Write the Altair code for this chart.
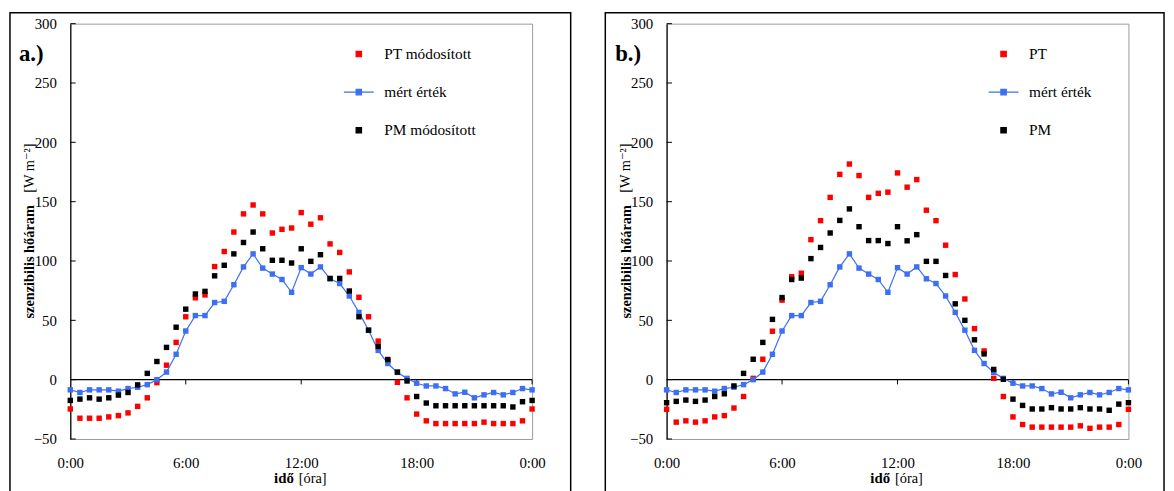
import altair as alt
import pandas as pd

# time of day in hours (half-hourly, 0:00 .. 24:00)
TIME_H = [0.0, 0.5, 1.0, 1.5, 2.0, 2.5, 3.0, 3.5, 4.0, 4.5, 5.0, 5.5, 6.0, 6.5, 7.0, 7.5,
          8.0, 8.5, 9.0, 9.5, 10.0, 10.5, 11.0, 11.5, 12.0, 12.5, 13.0, 13.5, 14.0, 14.5,
          15.0, 15.5, 16.0, 16.5, 17.0, 17.5, 18.0, 18.5, 19.0, 19.5, 20.0, 20.5, 21.0,
          21.5, 22.0, 22.5, 23.0, 23.5, 24.0]

MERT = [-8.6, -10.8, -8.6, -8.6, -8.6, -9.7, -7.5, -6.4, -4.2, 0, 6.4, 21.4, 41, 54, 54, 65,
        66, 80, 95, 106, 94, 89, 84.4, 73.6, 94.4, 89, 95, 85, 81, 70.5, 56.7, 41.7, 24.7,
        13.6, 6.1, 1.1, -3, -5.3, -5.3, -7.5, -12, -10.6, -15.3, -12.8, -10.8, -12.8, -10.8,
        -7.5, -8.6]

PT_MOD = [-24.7, -32.5, -32.5, -32.5, -31.4, -30.3, -28, -22.5, -15.3, -2.5, 12.2, 31.4, 53,
          69, 71.4, 95.3, 108, 124.4, 139.7, 147.2, 139.7, 123.6, 126.7, 127.8, 140.8, 131,
          136.4, 114.4, 107.2, 90.8, 69.4, 53, 32.5, 16, -2.2, -15.3, -29, -34.7, -37, -37,
          -37, -37, -37, -35.8, -37, -37, -37, -34.7, -24.7]

PM_MOD = [-17.5, -16.4, -15.3, -16.4, -15.3, -13, -10.8, -4.4, 5.3, 15.3, 27.2, 44.2, 59.4,
          72.2, 74.4, 87.5, 96.4, 106, 115.6, 124.4, 110.3, 100.6, 100.6, 98.3, 110.3, 99.7,
          105.3, 85.3, 85.3, 74.7, 53, 41.7, 28, 17, 6.4, -1.1, -14.2, -19.7, -22, -22, -22,
          -22, -22, -22, -22, -22, -23, -18.6, -17.5]

PT = [-25, -35.8, -34.7, -35.8, -34.7, -31.4, -30.3, -23.9, -14.2, 1.1, 17.2, 40.8, 67, 86.7,
      89.7, 118, 134, 153.6, 173, 181.7, 172, 153.6, 157, 158, 174.2, 162.2, 168.6, 142.8,
      134, 113.3, 88.6, 68, 43, 24.2, 1.1, -14.2, -31.4, -37.8, -40, -40, -40, -40, -40,
      -38.9, -41, -40, -40, -37.8, -25]

PM = [-19.4, -18.3, -17.2, -18.3, -17.2, -14.2, -11.9, -5.3, 5.3, 17.2, 31.4, 50.8, 69.2,
      84.4, 85.6, 102, 111.4, 123.6, 134.2, 143.9, 128.9, 117.2, 117.2, 114.7, 128.9, 117,
      122.2, 99.7, 99.7, 87.8, 63.9, 50, 33.6, 21.7, 8.6, 0.3, -16.4, -21.7, -24.7, -24.7,
      -23.6, -24.7, -24.7, -23.6, -24.7, -24.7, -25.8, -20.6, -19.4]

Y_TICKS = [-50, 0, 50, 100, 150, 200, 250, 300]
X_TICKS = [0, 6, 12, 18, 24]
X_MINOR = [6, 12, 18, 24]

MERT_LABEL = "mért érték"
Y_TITLE = "szenzibilis hőáram"
Y_UNIT = "[W m⁻²]"
X_TITLE = "idő"
X_UNIT = "[óra]"

FONT = "Times New Roman, Liberation Serif, DejaVu Serif, serif"
RED = "#ff0000"
BLUE = "#3d6ff2"
BLACK = "#000000"
W, H = 467, 420
LINE_SYMBOL = "M-5.5,0H5.5M-1,-1H1V1H-1Z"


def panel(tag, pt_label, pm_label, pt_vals, pm_vals, legend_x, frame_x, frame_x2):
    names = [pt_label, MERT_LABEL, pm_label]
    rows = []
    for t, a, b, c in zip(TIME_H, pt_vals, MERT, pm_vals):
        rows.append({"t": t, "v": a, "s": pt_label})
        rows.append({"t": t, "v": b, "s": MERT_LABEL})
        rows.append({"t": t, "v": c, "s": pm_label})
    df = pd.DataFrame(rows)

    xs = alt.Scale(domain=[0, 24], nice=False, zero=False)
    ys = alt.Scale(domain=[-50, 300], nice=False, zero=False)
    x_axis = alt.Axis(values=X_TICKS, labelExpr="(datum.value % 24) + ':00'", ticks=False,
                      tickSize=0, domain=False, grid=False, labelPadding=17, labelFont=FONT,
                      labelFontSize=15, labelColor=BLACK, labelFlush=False, title=None)
    y_axis = alt.Axis(values=Y_TICKS, ticks=False, tickSize=0, domainColor=BLACK,
                      domainWidth=1.2, grid=False, labelPadding=14, labelFont=FONT,
                      labelFontSize=15, labelColor=BLACK, labelFlush=False,
                      title=Y_TITLE, titleFont=FONT,
                      titleFontSize=14.5, titleFontWeight="bold", titleColor=BLACK,
                      titleAngle=270, titleX=-41, titleY=183, titleAlign="right",
                      titleBaseline="middle")
    X = alt.X("t:Q", scale=xs, axis=x_axis)
    Y = alt.Y("v:Q", scale=ys, axis=y_axis)

    stroke_expr = ("datum.value === '" + MERT_LABEL + "' ? '" + BLUE + "' : 'transparent'")
    color = alt.Color("s:N", scale=alt.Scale(domain=names, range=[RED, BLUE, BLACK]),
                      legend=alt.Legend(
                          orient="none", legendX=legend_x, legendY=23, title=None,
                          symbolSize=30, labelFont=FONT, labelFontSize=15.5,
                          labelColor=BLACK, labelOffset=18, rowPadding=21.5, padding=0,
                          symbolStrokeColor=alt.ExprRef(stroke_expr),
                          symbolStrokeWidth=1.2))
    shape = alt.Shape("s:N", scale=alt.Scale(domain=names,
                                             range=["square", LINE_SYMBOL, "square"]))

    base = alt.Chart(df)
    one = alt.Chart(pd.DataFrame({"tag": [tag], "yu": [Y_UNIT], "xt": [X_TITLE],
                                  "xu": [X_UNIT]}))

    frame = one.mark_rect(fillOpacity=0, stroke=BLACK, strokeWidth=1.5).encode(
        x=alt.value(frame_x), x2=alt.value(frame_x2), y=alt.value(-11), y2=alt.value(490))
    zero = alt.Chart(pd.DataFrame({"z": [0]})).mark_rule(color=BLACK, strokeWidth=1.3).encode(
        y=alt.Y("z:Q", scale=ys, axis=y_axis))
    xt = alt.Chart(pd.DataFrame({"t": X_MINOR})).mark_rule(color=BLACK, strokeWidth=1).encode(
        x=X, y=alt.datum(0), y2=alt.datum(-4))
    yt = alt.Chart(pd.DataFrame({"v": Y_TICKS})).mark_rule(color=BLACK, strokeWidth=1).encode(
        y=Y, x=alt.datum(0), x2=alt.datum(0.28))

    line = base.transform_filter(alt.datum.s == MERT_LABEL).mark_line(
        strokeWidth=1.2).encode(x=X, y=Y, color=color)
    pt_pts = base.transform_filter(alt.datum.s == pt_label).mark_point(
        filled=True, size=30, opacity=1).encode(x=X, y=Y, color=color, shape=shape)
    m_pts = base.transform_filter(alt.datum.s == MERT_LABEL).mark_point(
        filled=True, size=30, opacity=1, shape="square").encode(x=X, y=Y, color=color)
    pm_pts = base.transform_filter(alt.datum.s == pm_label).mark_point(
        filled=True, size=30, opacity=1).encode(x=X, y=Y, color=color, shape=shape)

    tag_txt = one.mark_text(font=FONT, fontSize=23, fontWeight="bold", align="left",
                            baseline="alphabetic", color=BLACK).encode(
        x=alt.value(-52), y=alt.value(38), text="tag:N")
    yu_txt = one.mark_text(font=FONT, fontSize=14.5, angle=270, align="left",
                           baseline="middle", color=BLACK).encode(
        x=alt.value(-41), y=alt.value(171), text="yu:N")
    xt_txt = one.mark_text(font=FONT, fontSize=15, fontWeight="bold", align="right",
                           baseline="middle", color=BLACK).encode(
        x=alt.value(226), y=alt.value(460), text="xt:N")
    xu_txt = one.mark_text(font=FONT, fontSize=14.5, align="left",
                           baseline="middle", color=BLACK).encode(
        x=alt.value(231), y=alt.value(460), text="xu:N")

    return alt.layer(frame, zero, xt, yt, pt_pts, line, m_pts, pm_pts,
                     tag_txt, yu_txt, xt_txt, xu_txt).properties(width=W, height=H)


pa = panel("a.)", "PT módosított", "PM módosított", PT_MOD, PM_MOD, 284, -61, 506)
pb = panel("b.)", "PT", "PM", PT, PM, 333, -62, 503)

chart = alt.hconcat(pa, pb, spacing=31).resolve_scale(
    color="independent", shape="independent").resolve_legend(
    color="independent", shape="independent").properties(
    padding=0, background="white").configure_view(stroke="#9a9a9a", strokeWidth=1)

chart.save("out.html", embed_options={"renderer": "svg", "actions": False})
